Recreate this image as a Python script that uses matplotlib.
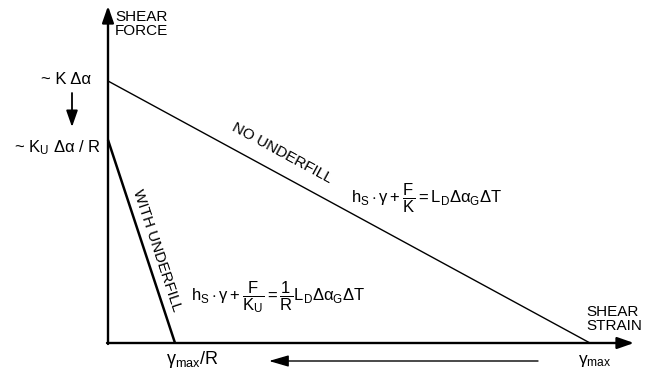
import matplotlib
matplotlib.use("Agg")
import matplotlib.pyplot as plt

plt.rcParams['font.family'] = ['Liberation Sans', 'DejaVu Sans']
plt.rcParams['mathtext.fontset'] = 'custom'
plt.rcParams['mathtext.rm'] = 'Liberation Sans'
plt.rcParams['mathtext.it'] = 'Liberation Sans'
plt.rcParams['mathtext.bf'] = 'Liberation Sans:bold'
plt.rcParams['mathtext.sf'] = 'Liberation Sans'

# Data (strain normalised to gamma_max, force normalised to K*dalpha)
strain_no_underfill = [0.0, 1.0]
force_no_underfill = [1.0, 0.0]
strain_with_underfill = [0.0, 0.139]
force_with_underfill = [0.775, 0.0]

# pixel -> data helper for annotation layout
X0, Y0, SX, SY = 108, 343, 482, 262
def P(xp, yp):
    return ((xp - X0) / SX, (Y0 - yp) / SY)

fig = plt.figure(figsize=(6.54, 3.72), dpi=100)
ax = fig.add_axes([0, 0, 1, 1])
ax.set_xlim(P(0, 0)[0], P(654, 0)[0])
ax.set_ylim(P(0, 372)[1], P(0, 0)[1])
ax.axis('off')

# axes arrows
arrow_kw = dict(arrowstyle='-|>,head_length=1.0,head_width=0.35', lw=1.7,
                color='black', shrinkA=0, shrinkB=0, mutation_scale=10)
ax.annotate('', xy=P(108, 6), xytext=P(108, 344), arrowprops=arrow_kw)
ax.annotate('', xy=P(634, 343), xytext=P(107, 343), arrowprops=arrow_kw)

# data lines
ax.plot(strain_no_underfill, force_no_underfill, color='black', lw=1.0,
        solid_capstyle='butt')
ax.plot(strain_with_underfill, force_with_underfill, color='black', lw=1.8,
        solid_capstyle='butt')

fs = 11
# axis labels
ax.text(*P(115, 10), 'SHEAR\nFORCE', fontsize=fs, ha='left', va='top',
        linespacing=1.0)
ax.text(*P(586, 305), 'SHEAR\nSTRAIN', fontsize=fs, ha='left', va='top',
        linespacing=1.0)

# y-annotations
ax.text(*P(91, 79), r'~ K Δα', fontsize=12, ha='right', va='center')
ax.annotate('', xy=P(72, 127), xytext=P(72, 93),
            arrowprops=dict(arrowstyle='-|>,head_length=1.0,head_width=0.35',
                            lw=1.3, color='black', shrinkA=0, shrinkB=0,
                            mutation_scale=10))
ax.text(*P(101, 148), r'~ K$_\mathrm{U}$ Δα / R', fontsize=12, ha='right',
        va='center')

# line labels
ax.text(*P(282, 153), 'NO UNDERFILL', fontsize=fs, ha='center', va='center',
        rotation=-28.5, rotation_mode='anchor')
ax.text(*P(157, 250), 'WITH UNDERFILL', fontsize=fs, ha='center', va='center',
        rotation=-71.7, rotation_mode='anchor')

# equations
ax.text(*P(351, 198),
        r'$\mathrm{h_S} \cdot \gamma + \dfrac{\mathrm{F}}{\mathrm{K}} = '
        r'\mathrm{L_D}\Delta\alpha_\mathrm{G}\Delta\mathrm{T}$',
        fontsize=12, ha='left', va='center')
ax.text(*P(191, 297),
        r'$\mathrm{h_S} \cdot \gamma + \dfrac{\mathrm{F}}{\mathrm{K_U}} = '
        r'\dfrac{1}{\mathrm{R}}\mathrm{L_D}\Delta\alpha_\mathrm{G}\Delta\mathrm{T}$',
        fontsize=12, ha='left', va='center')

# bottom labels and arrow
ax.text(*P(578, 361), r'$\gamma_\mathrm{max}$', fontsize=12.5, ha='left',
        va='center')
ax.text(*P(166, 360), r'$\gamma_\mathrm{max}$/R', fontsize=13, ha='left',
        va='center')
ax.annotate('', xy=P(269, 361), xytext=P(538, 361),
            arrowprops=dict(arrowstyle='-|>,head_length=1.2,head_width=0.35',
                            lw=1.0, color='black', shrinkA=0, shrinkB=0,
                            mutation_scale=10))

fig.savefig('out.png', dpi=100)
